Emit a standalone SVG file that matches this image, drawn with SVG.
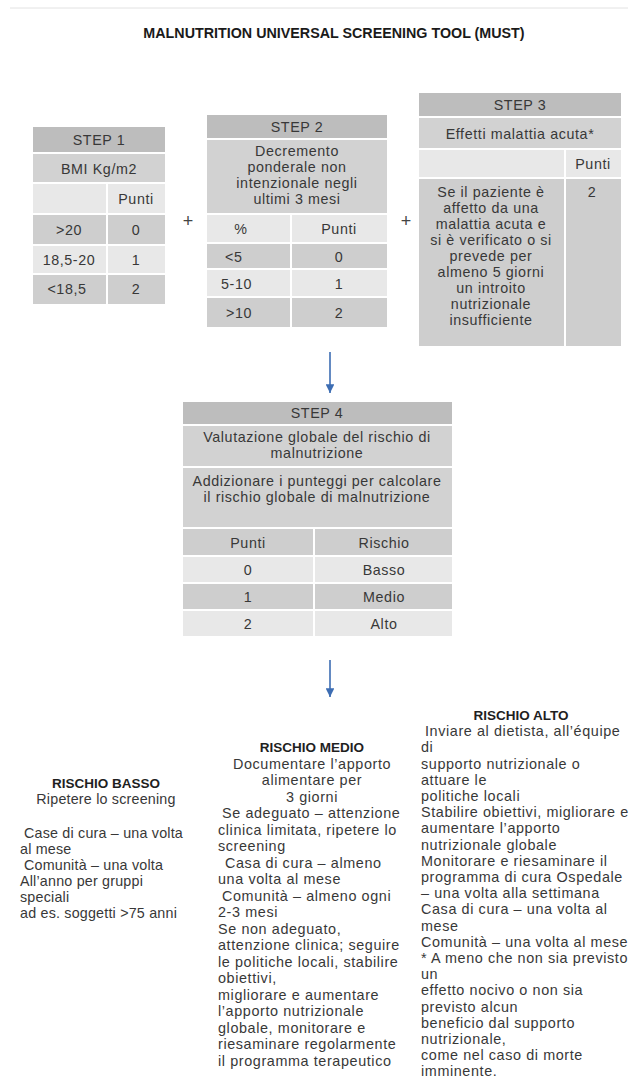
<svg xmlns="http://www.w3.org/2000/svg" width="638" height="1082" viewBox="0 0 638 1082">
<style>
text{font-family:"Liberation Sans",Arial,sans-serif;fill:#383838}
.t{font-size:14.3px;letter-spacing:0.6px;text-anchor:middle}
.ts{font-size:14.3px;letter-spacing:0.6px}
.b{font-size:14.4px;letter-spacing:0.6px}
.bc{font-size:14.4px;letter-spacing:0.6px;text-anchor:middle}
.bl{font-size:14.3px;letter-spacing:0.2px}
.blc{font-size:14.3px;letter-spacing:0.2px;text-anchor:middle}
.h{font-size:13.5px;font-weight:bold;text-anchor:middle;fill:#1f1f1f}
.title{font-size:14.3px;font-weight:bold;text-anchor:middle;fill:#1a1a1a}
.hd{fill:#bdbdbd;stroke:#fff;stroke-width:2}
.ds{fill:#d2d2d2;stroke:#fff;stroke-width:2}
.lt{fill:#e8e8e8;stroke:#fff;stroke-width:2}
.md{fill:#cecece;stroke:#fff;stroke-width:2}
.plus{font-size:18px;text-anchor:middle;fill:#444}
</style>
<defs>
<marker id="ah" viewBox="0 0 10 10" refX="10" refY="5" markerWidth="5.5" markerHeight="5.5" orient="auto" markerUnits="strokeWidth">
<path d="M0,0 L10,5 L0,10 z" fill="#3d6db3"/>
</marker>
</defs>
<line x1="10" y1="8" x2="628" y2="8" stroke="#e2e2e2" stroke-width="1"/>
<text class="title" x="334" y="38">MALNUTRITION UNIVERSAL SCREENING TOOL (MUST)</text>

<g id="step1">
<rect class="hd" x="32" y="126" width="134" height="27"/>
<rect class="ds" x="32" y="153" width="134" height="30"/>
<rect class="lt" x="32" y="183" width="75" height="31"/>
<rect class="lt" x="107" y="183" width="59" height="31"/>
<rect class="md" x="32" y="214" width="75" height="31"/>
<rect class="md" x="107" y="214" width="59" height="31"/>
<rect class="lt" x="32" y="245" width="75" height="29"/>
<rect class="lt" x="107" y="245" width="59" height="29"/>
<rect class="md" x="32" y="274" width="75" height="31"/>
<rect class="md" x="107" y="274" width="59" height="31"/>
<text class="t" x="99" y="145">STEP 1</text>
<text class="t" x="99" y="174">BMI Kg/m2</text>
<text class="t" x="136" y="204">Punti</text>
<text class="t" x="69" y="235">&gt;20</text>
<text class="t" x="136" y="235">0</text>
<text class="t" x="69" y="265">18,5-20</text>
<text class="t" x="136" y="265">1</text>
<text class="t" x="67" y="294">&lt;18,5</text>
<text class="t" x="136" y="294">2</text>
</g>

<text class="plus" x="188" y="227">+</text>

<g id="step2">
<rect class="hd" x="206" y="114" width="182" height="25"/>
<rect class="ds" x="206" y="139" width="182" height="75"/>
<rect class="lt" x="206" y="214" width="85" height="29"/>
<rect class="lt" x="291" y="214" width="97" height="29"/>
<rect class="md" x="206" y="243" width="85" height="26"/>
<rect class="md" x="291" y="243" width="97" height="26"/>
<rect class="lt" x="206" y="269" width="85" height="28"/>
<rect class="lt" x="291" y="269" width="97" height="28"/>
<rect class="md" x="206" y="297" width="85" height="31"/>
<rect class="md" x="291" y="297" width="97" height="31"/>
<text class="t" x="297" y="132">STEP 2</text>
<text class="t" x="297" y="156">Decremento</text>
<text class="t" x="297" y="172">ponderale non</text>
<text class="t" x="297" y="188">intenzionale negli</text>
<text class="t" x="297" y="204">ultimi 3 mesi</text>
<text class="t" x="241" y="234">%</text>
<text class="t" x="339" y="234">Punti</text>
<text class="ts" x="225" y="262">&lt;5</text>
<text class="t" x="339" y="262">0</text>
<text class="ts" x="221" y="289">5-10</text>
<text class="t" x="339" y="289">1</text>
<text class="ts" x="226" y="318">&gt;10</text>
<text class="t" x="339" y="318">2</text>
</g>

<text class="plus" x="406" y="227">+</text>

<g id="step3">
<rect class="hd" x="418" y="92" width="204" height="25"/>
<rect class="ds" x="418" y="117" width="204" height="32"/>
<rect class="lt" x="418" y="149" width="147" height="29"/>
<rect class="lt" x="565" y="149" width="57" height="29"/>
<rect class="md" x="418" y="178" width="147" height="169"/>
<rect class="md" x="565" y="178" width="57" height="169"/>
<text class="t" x="520" y="110">STEP 3</text>
<text class="t" x="520" y="139">Effetti malattia acuta*</text>
<text class="t" x="593" y="169">Punti</text>
<text class="t" x="592" y="197">2</text>
<text class="t" x="491" y="197">Se il paziente è</text>
<text class="t" x="491" y="213">affetto da una</text>
<text class="t" x="491" y="229">malattia acuta e</text>
<text class="t" x="491" y="245">si è verificato o si</text>
<text class="t" x="491" y="261">prevede per</text>
<text class="t" x="491" y="277">almeno 5 giorni</text>
<text class="t" x="491" y="293">un introito</text>
<text class="t" x="491" y="309">nutrizionale</text>
<text class="t" x="491" y="325">insufficiente</text>
</g>

<g id="connectors">
<line x1="330" y1="352" x2="330" y2="393" stroke="#3d6db3" stroke-width="1.6" marker-end="url(#ah)"/>
<line x1="330" y1="660" x2="330" y2="697" stroke="#3d6db3" stroke-width="1.6" marker-end="url(#ah)"/>
</g>

<g id="step4">
<rect class="hd" x="182" y="401" width="271" height="24"/>
<rect class="ds" x="182" y="425" width="271" height="42"/>
<rect class="ds" x="182" y="467" width="271" height="61"/>
<rect class="md" x="182" y="528" width="132" height="28"/>
<rect class="md" x="314" y="528" width="139" height="28"/>
<rect class="lt" x="182" y="556" width="132" height="27"/>
<rect class="lt" x="314" y="556" width="139" height="27"/>
<rect class="md" x="182" y="583" width="132" height="27"/>
<rect class="md" x="314" y="583" width="139" height="27"/>
<rect class="lt" x="182" y="610" width="132" height="27"/>
<rect class="lt" x="314" y="610" width="139" height="27"/>
<text class="t" x="317" y="418">STEP 4</text>
<text class="t" x="317" y="442">Valutazione globale del rischio di</text>
<text class="t" x="317" y="458">malnutrizione</text>
<text class="t" x="317" y="486">Addizionare i punteggi per calcolare</text>
<text class="t" x="317" y="502">il rischio globale di malnutrizione</text>
<text class="t" x="248" y="548">Punti</text>
<text class="t" x="384" y="548">Rischio</text>
<text class="t" x="248" y="575">0</text>
<text class="t" x="384" y="575">Basso</text>
<text class="t" x="248" y="602">1</text>
<text class="t" x="384" y="602">Medio</text>
<text class="t" x="248" y="629">2</text>
<text class="t" x="384" y="629">Alto</text>
</g>

<g id="rischio-basso">
<text class="h" x="106" y="788">RISCHIO BASSO</text>
<text class="blc" x="106" y="804">Ripetere lo screening</text>
<text class="bl" x="24" y="838">Case di cura – una volta</text>
<text class="bl" x="20" y="854">al mese</text>
<text class="bl" x="24" y="870">Comunità – una volta</text>
<text class="bl" x="20" y="886">All’anno per gruppi</text>
<text class="bl" x="20" y="902">speciali</text>
<text class="bl" x="20" y="918">ad es. soggetti &gt;75 anni</text>
</g>

<g id="rischio-medio">
<text class="h" x="312" y="752">RISCHIO MEDIO</text>
<text class="bc" x="312" y="768.5">Documentare l’apporto</text>
<text class="bc" x="312" y="785">alimentare per</text>
<text class="bc" x="312" y="801.5">3 giorni</text>
<text class="b" x="222" y="818">Se adeguato – attenzione</text>
<text class="b" x="218" y="834.5">clinica limitata, ripetere lo</text>
<text class="b" x="218" y="851">screening</text>
<text class="b" x="225" y="867.5">Casa di cura – almeno</text>
<text class="b" x="218" y="884">una volta al mese</text>
<text class="b" x="222" y="900.5">Comunità – almeno ogni</text>
<text class="b" x="218" y="917">2-3 mesi</text>
<text class="b" x="218" y="933.5">Se non adeguato,</text>
<text class="b" x="218" y="950">attenzione clinica; seguire</text>
<text class="b" x="218" y="966.5">le politiche locali, stabilire</text>
<text class="b" x="218" y="983">obiettivi,</text>
<text class="b" x="218" y="999.5">migliorare e aumentare</text>
<text class="b" x="218" y="1016">l’apporto nutrizionale</text>
<text class="b" x="218" y="1032.5">globale, monitorare e</text>
<text class="b" x="218" y="1049">riesaminare regolarmente</text>
<text class="b" x="218" y="1065.5">il programma terapeutico</text>
</g>

<g id="rischio-alto">
<text class="h" x="521" y="720">RISCHIO ALTO</text>
<text class="b" x="425" y="736.2">Inviare al dietista, all’équipe</text>
<text class="b" x="421" y="752.4">di</text>
<text class="b" x="421" y="768.6">supporto nutrizionale o</text>
<text class="b" x="421" y="784.8">attuare le</text>
<text class="b" x="421" y="801">politiche locali</text>
<text class="b" x="421" y="817.2">Stabilire obiettivi, migliorare e</text>
<text class="b" x="421" y="833.4">aumentare l’apporto</text>
<text class="b" x="421" y="849.6">nutrizionale globale</text>
<text class="b" x="421" y="865.8">Monitorare e riesaminare il</text>
<text class="b" x="421" y="882">programma di cura Ospedale</text>
<text class="b" x="421" y="898.2">– una volta alla settimana</text>
<text class="b" x="421" y="914.4">Casa di cura – una volta al</text>
<text class="b" x="421" y="930.6">mese</text>
<text class="b" x="421" y="946.8">Comunità – una volta al mese</text>
<text class="b" x="421" y="963">* A meno che non sia previsto</text>
<text class="b" x="421" y="979.2">un</text>
<text class="b" x="421" y="995.4">effetto nocivo o non sia</text>
<text class="b" x="421" y="1011.6">previsto alcun</text>
<text class="b" x="421" y="1027.8">beneficio dal supporto</text>
<text class="b" x="421" y="1044">nutrizionale,</text>
<text class="b" x="421" y="1060.2">come nel caso di morte</text>
<text class="b" x="421" y="1076.4">imminente.</text>
</g>
</svg>
